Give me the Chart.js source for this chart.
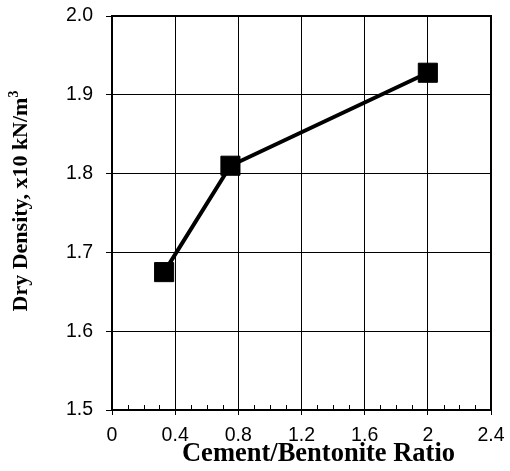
<!DOCTYPE html>
<html>
<head>
<meta charset="utf-8">
<script src="https://cdn.jsdelivr.net/npm/chart.js@4/dist/chart.umd.min.js"></script>
<style>
  body { margin: 0; background: #fff; }
</style>
</head>
<body>
<canvas id="densityChart" width="510" height="471"></canvas>
<script>
// ===== Dry density vs cement/bentonite ratio =====

// Data
const ratios = [0.33, 0.75, 2.0];
const dryDensity = [1.675, 1.81, 1.928];
const xTicks = [0, 0.4, 0.8, 1.2, 1.6, 2, 2.4];
const yTicks = [1.5, 1.6, 1.7, 1.8, 1.9, 2.0];
const xTitle = 'Cement/Bentonite Ratio';
const yTitle = 'Dry Density, x10 kN/m';
const yTitleSup = '3';

const tickFont = { family: '"Liberation Sans", Arial, sans-serif', size: 19.5 };
const titleFamily = '"Liberation Serif", "Times New Roman", serif';

// Frame, minor ticks and axis titles
const framePlugin = {
  id: 'frame',
  afterDraw(chart) {
    const { ctx, chartArea: a, scales: { x } } = chart;
    ctx.save();
    ctx.strokeStyle = '#000';

    // minor ticks every 0.1, pointing into the plot
    ctx.lineWidth = 1;
    for (let i = 1; i < 24; i++) {
      if (i % 4 === 0) continue;
      const px = Math.round(x.getPixelForValue(i / 10)) + 0.5;
      ctx.beginPath();
      ctx.moveTo(px, a.bottom);
      ctx.lineTo(px, a.bottom - 5);
      ctx.stroke();
    }

    ctx.lineWidth = 2;
    ctx.strokeRect(a.left, a.top, a.right - a.left, a.bottom - a.top);

    // x title (sits a bit right of centre, overlapping the tick labels)
    ctx.fillStyle = '#000';
    ctx.textBaseline = 'alphabetic';
    ctx.textAlign = 'center';
    ctx.font = 'bold 26.5px ' + titleFamily;
    ctx.fillText(xTitle, (a.left + a.right) / 2 + 17, 461);

    // y title with superscript
    ctx.translate(27, 201);
    ctx.rotate(-Math.PI / 2);
    ctx.textAlign = 'left';
    ctx.font = 'bold 22px ' + titleFamily;
    const w1 = ctx.measureText(yTitle).width;
    ctx.font = 'bold 14px ' + titleFamily;
    const w2 = ctx.measureText(yTitleSup).width;
    const start = -(w1 + w2) / 2;
    ctx.font = 'bold 22px ' + titleFamily;
    ctx.fillText(yTitle, start, 0);
    ctx.font = 'bold 14px ' + titleFamily;
    ctx.fillText(yTitleSup, start + w1, -9);
    ctx.restore();
  }
};

const ctx = document.getElementById('densityChart').getContext('2d');

new Chart(ctx, {
  type: 'line',
  data: {
    datasets: [{
      data: ratios.map((r, i) => ({ x: r, y: dryDensity[i] })),
      borderColor: '#000',
      borderWidth: 4,
      tension: 0,
      pointStyle: 'rect',
      pointRadius: 13.5,
      pointBackgroundColor: '#000',
      pointBorderColor: '#000',
      pointBorderWidth: 1,
      clip: false
    }]
  },
  options: {
    responsive: false,
    animation: false,
    layout: { autoPadding: false, padding: { left: 0, top: 16, right: 19, bottom: 0 } },
    plugins: {
      legend: { display: false },
      tooltip: { enabled: false }
    },
    scales: {
      x: {
        type: 'linear',
        min: 0,
        max: 2.4,
        afterBuildTicks: s => { s.ticks = xTicks.map(v => ({ value: v })); },
        afterFit: s => { s.height = 61; s.paddingLeft = 0; s.paddingRight = 0; },
        ticks: {
          color: '#000',
          font: tickFont,
          padding: 9,
          maxRotation: 0,
          callback: v => String(v)
        },
        grid: { color: '#000', lineWidth: 1, tickLength: 5, tickColor: '#000' },
        border: { display: false }
      },
      y: {
        min: 1.5,
        max: 2.0,
        afterBuildTicks: s => { s.ticks = yTicks.map(v => ({ value: v })); },
        afterFit: s => { s.width = 112; s.paddingTop = 0; s.paddingBottom = 0; },
        ticks: {
          color: '#000',
          font: tickFont,
          padding: 13,
          callback: v => Number(v).toFixed(1)
        },
        grid: { color: '#000', lineWidth: 1, tickLength: 6, tickColor: '#000' },
        border: { display: false }
      }
    }
  },
  plugins: [framePlugin]
});
</script>
</body>
</html>
